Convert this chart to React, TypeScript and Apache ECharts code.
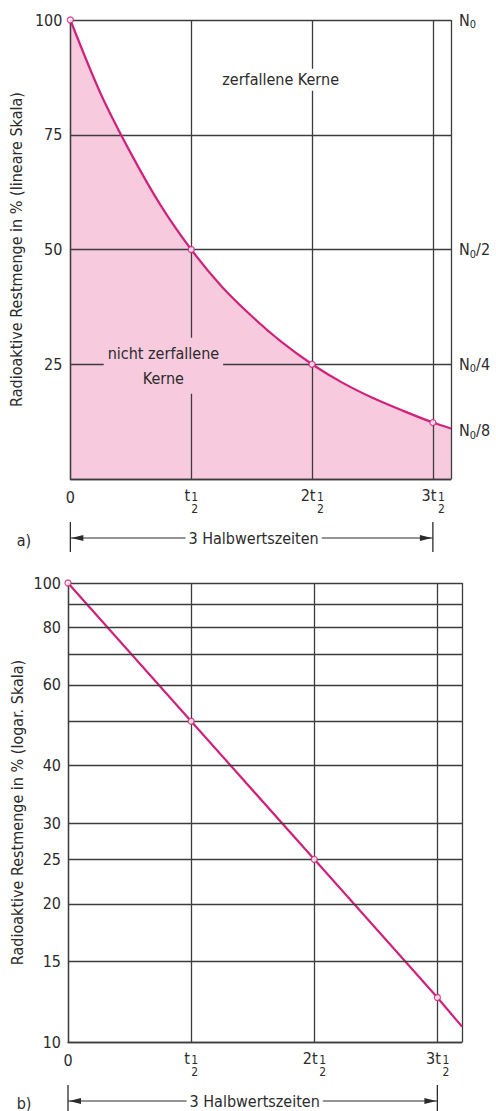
import React, { useEffect, useRef } from 'react';
import * as echarts from 'echarts';

const FONT = '"DejaVu Sans Condensed", "Liberation Sans Narrow", "DejaVu Sans", sans-serif';
const INK = '#2b2b2b';
const GRID = '#3c3c3c';
const MAGENTA = '#d0227a';
const PINK = '#f8cade';

// Chart a) linear scale
const decayT = [0, 0.25, 0.5, 0.75, 1, 1.25, 1.5, 1.75, 2, 2.25, 2.5, 2.75, 3, 3.15];
const decayLin = [100, 84, 71, 59.5, 50, 42, 35.5, 29.8, 25, 21, 17.7, 14.9, 12.3, 11];
const markerT = [0, 1, 2, 3];
const markerLin = [100, 50, 25, 12.3];
const rightLabels = ['N0', 'N0/2', 'N0/4', 'N0/8'];
const rightLabelVals = [100, 50, 25, 10.5];

// Chart b) logarithmic scale
const logT = [0, 1, 2, 3, 3.2];
const logVals = [100, 50, 25, 12.5, 10.8];
const markerLog = [100, 50, 25, 12.5];
const logGridVals = [100, 90, 80, 70, 60, 50, 40, 30, 25, 20, 15, 10];
const logLabelVals = [100, 80, 60, 40, 30, 25, 20, 15, 10];

const xTickLabels = ['0', 't', '2t', '3t'];

const richX = {
  z: { fontFamily: FONT, fontSize: 16, color: INK, lineHeight: 16 },
  t1: { fontFamily: FONT, fontSize: 16, color: INK, width: 7, align: 'center', lineHeight: 14, verticalAlign: 'bottom' },
  t2: { fontFamily: FONT, fontSize: 16, color: INK, width: 17, align: 'center', lineHeight: 14, verticalAlign: 'bottom' },
  s1: { width: 7, lineHeight: 12 },
  s2: { width: 17, lineHeight: 12 },
  f: { fontFamily: FONT, fontSize: 12, color: INK, width: 8, align: 'center', lineHeight: 12, verticalAlign: 'bottom' },
};

function xFormatter(v: number) {
  const i = Math.round(v);
  if (Math.abs(v - i) > 1e-6 || i < 0 || i > 3) return '';
  if (i === 0) return '{z|0}';
  const lbl = xTickLabels[i];
  const k = i === 1 ? '1' : '2';
  return `{t${k}|${lbl}}{f|1}\n{s${k}|}{f|2}`;
}

const richN = {
  n: { fontFamily: FONT, fontSize: 16, color: INK, lineHeight: 16, verticalAlign: 'top' },
  s: { fontFamily: FONT, fontSize: 11, color: INK, lineHeight: 11, padding: [7, 0, 0, 0], verticalAlign: 'top' },
};

function nLabel(s: string) {
  const rest = s.slice(2);
  return `{n|N}{s|0}${rest ? `{n|${rest}}` : ''}`;
}

const gridLine = { color: GRID, width: 1.3 };
const curveData = () => decayT.map((t, i) => [t, decayLin[i]]);

export default function App() {
  const ref = useRef<HTMLDivElement>(null);
  useEffect(() => {
    document.body.style.margin = '0';
    const chart = echarts.init(ref.current!, null, { renderer: 'svg' });
    const option: any = {
      animation: false,
      backgroundColor: '#fff',
      textStyle: { fontFamily: FONT },
      grid: [
        { left: 70, top: 20, width: 381, height: 459 },
        { left: 68, top: 583, width: 394, height: 459 },
      ],
      xAxis: [
        {
          type: 'value', gridIndex: 0, min: 0, max: 3.15, interval: 1,
          axisLine: { show: true, lineStyle: gridLine },
          axisTick: { show: false },
          splitLine: { show: true, lineStyle: gridLine },
          axisLabel: { formatter: xFormatter, rich: richX, margin: 10, showMaxLabel: false },
        },
        {
          type: 'value', gridIndex: 1, min: 0, max: 3.2, interval: 1,
          axisLine: { show: true, lineStyle: gridLine },
          axisTick: { show: false },
          splitLine: { show: true, lineStyle: gridLine },
          axisLabel: { formatter: xFormatter, rich: richX, margin: 10, showMaxLabel: false },
        },
      ],
      yAxis: [
        {
          type: 'value', gridIndex: 0, min: 0, max: 100, interval: 25,
          name: 'Radioaktive Restmenge in % (lineare Skala)',
          nameLocation: 'middle', nameGap: 45,
          nameTextStyle: { fontFamily: FONT, fontSize: 16, color: INK },
          axisLine: { show: true, lineStyle: gridLine },
          axisTick: { show: false },
          splitLine: { show: true, lineStyle: gridLine },
          axisLabel: {
            formatter: (v: number) => (v === 0 ? '' : String(v)),
            fontFamily: FONT, fontSize: 16, color: INK, margin: 8,
          },
        },
        {
          type: 'log', logBase: 10, gridIndex: 1, min: 10, max: 100,
          name: 'Radioaktive Restmenge in % (logar. Skala)',
          nameLocation: 'middle', nameGap: 43,
          nameTextStyle: { fontFamily: FONT, fontSize: 16, color: INK },
          axisLine: { show: true, lineStyle: gridLine },
          axisTick: { show: false },
          splitLine: { show: false },
          axisLabel: { show: false },
        },
      ],
      series: [
        {
          // pink area, drawn beneath the grid lines
          type: 'line', xAxisIndex: 0, yAxisIndex: 0,
          data: curveData(),
          smooth: 0.3, showSymbol: false,
          lineStyle: { width: 0, color: 'rgba(0,0,0,0)' },
          areaStyle: { color: PINK, opacity: 1 },
          z: -1, silent: true,
        },
        {
          type: 'line', xAxisIndex: 0, yAxisIndex: 0,
          data: curveData(),
          smooth: 0.3, showSymbol: false,
          lineStyle: { color: MAGENTA, width: 2.2 },
          z: 3,
          markLine: {
            silent: true, symbol: 'none', animation: false,
            lineStyle: { color: 'rgba(0,0,0,0)', width: 1 },
            label: { show: true, position: 'end', distance: 8, rich: richN, color: INK },
            data: rightLabelVals.map((v, i) => ({
              yAxis: v,
              label: { formatter: nLabel(rightLabels[i]) },
            })),
          },
        },
        {
          type: 'scatter', xAxisIndex: 0, yAxisIndex: 0,
          data: markerT.map((t, i) => [t, markerLin[i]]),
          symbol: 'circle', symbolSize: 6,
          itemStyle: { color: '#fff', borderColor: MAGENTA, borderWidth: 1.3 },
          z: 5,
        },
        {
          type: 'line', xAxisIndex: 1, yAxisIndex: 1,
          data: logT.map((t, i) => [t, logVals[i]]),
          showSymbol: false,
          lineStyle: { color: MAGENTA, width: 2.2 },
          z: 3,
          markLine: {
            silent: true, symbol: 'none', animation: false,
            lineStyle: { color: GRID, width: 1.3, type: 'solid' },
            label: { show: true, position: 'start', distance: 7, fontFamily: FONT, fontSize: 16, color: INK },
            data: logGridVals.map((v) => ({
              yAxis: v,
              label: { formatter: logLabelVals.indexOf(v) >= 0 ? String(v) : '' },
            })),
          },
        },
        {
          type: 'scatter', xAxisIndex: 1, yAxisIndex: 1,
          data: markerT.map((t, i) => [t, markerLog[i]]),
          symbol: 'circle', symbolSize: 6,
          itemStyle: { color: '#fff', borderColor: MAGENTA, borderWidth: 1.3 },
          z: 5,
        },
      ],
    };
    chart.setOption(option);

    const px = (g: number, x: number, y: number) =>
      chart.convertToPixel({ gridIndex: g } as any, [x, y]) as number[];

    const graphics: any[] = [];
    const dims = [
      { g: 0, ymin: 0, label: 'a)' },
      { g: 1, ymin: 10, label: 'b)' },
    ];
    dims.forEach((d) => {
      const p0 = px(d.g, 0, d.ymin);
      const p3 = px(d.g, 3, d.ymin);
      const y = p0[1] + 59;
      const x0 = p0[0];
      const x3 = p3[0];
      graphics.push(
        { type: 'line', z: 50, shape: { x1: x0, y1: y, x2: x3, y2: y }, style: { stroke: INK, lineWidth: 1.2 } },
        { type: 'line', z: 50, shape: { x1: x0, y1: y - 16, x2: x0, y2: y + 14 }, style: { stroke: INK, lineWidth: 1.3 } },
        { type: 'line', z: 50, shape: { x1: x3, y1: y - 16, x2: x3, y2: y + 14 }, style: { stroke: INK, lineWidth: 1.3 } },
        { type: 'polygon', z: 50, shape: { points: [[x0 + 1, y], [x0 + 13, y - 3], [x0 + 13, y + 3]] }, style: { fill: INK } },
        { type: 'polygon', z: 50, shape: { points: [[x3 - 1, y], [x3 - 13, y - 3], [x3 - 13, y + 3]] }, style: { fill: INK } },
        {
          type: 'text', z: 60, x: (x0 + x3) / 2 + 2, y,
          style: {
            text: '3 Halbwertszeiten', fontFamily: FONT, fontSize: 16, fill: INK,
            align: 'center', verticalAlign: 'middle', backgroundColor: '#fff', padding: [0, 3],
          },
        },
        {
          type: 'text', z: 60, x: 24, y: y + 2,
          style: { text: d.label, fontFamily: FONT, fontSize: 16, fill: INK, align: 'center', verticalAlign: 'middle' },
        },
      );
    });

    const pz = px(0, 1.74, 87);
    graphics.push({
      type: 'text', z: 60, x: pz[0], y: pz[1],
      style: {
        text: 'zerfallene Kerne', fontFamily: FONT, fontSize: 16, fill: INK,
        align: 'center', verticalAlign: 'middle', backgroundColor: '#fff', padding: [3, 3],
      },
    });
    const pn = px(0, 0.77, 24.7);
    graphics.push({
      type: 'text', z: 60, x: pn[0], y: pn[1],
      style: {
        text: 'nicht zerfallene\nKerne', fontFamily: FONT, fontSize: 16, fill: INK, lineHeight: 25,
        align: 'center', verticalAlign: 'middle', backgroundColor: PINK, padding: [3, 4],
      },
    });

    chart.setOption({ graphic: graphics });
    return () => chart.dispose();
  }, []);
  return <div ref={ref} style={{ width: 496, height: 1111 }} />;
}
